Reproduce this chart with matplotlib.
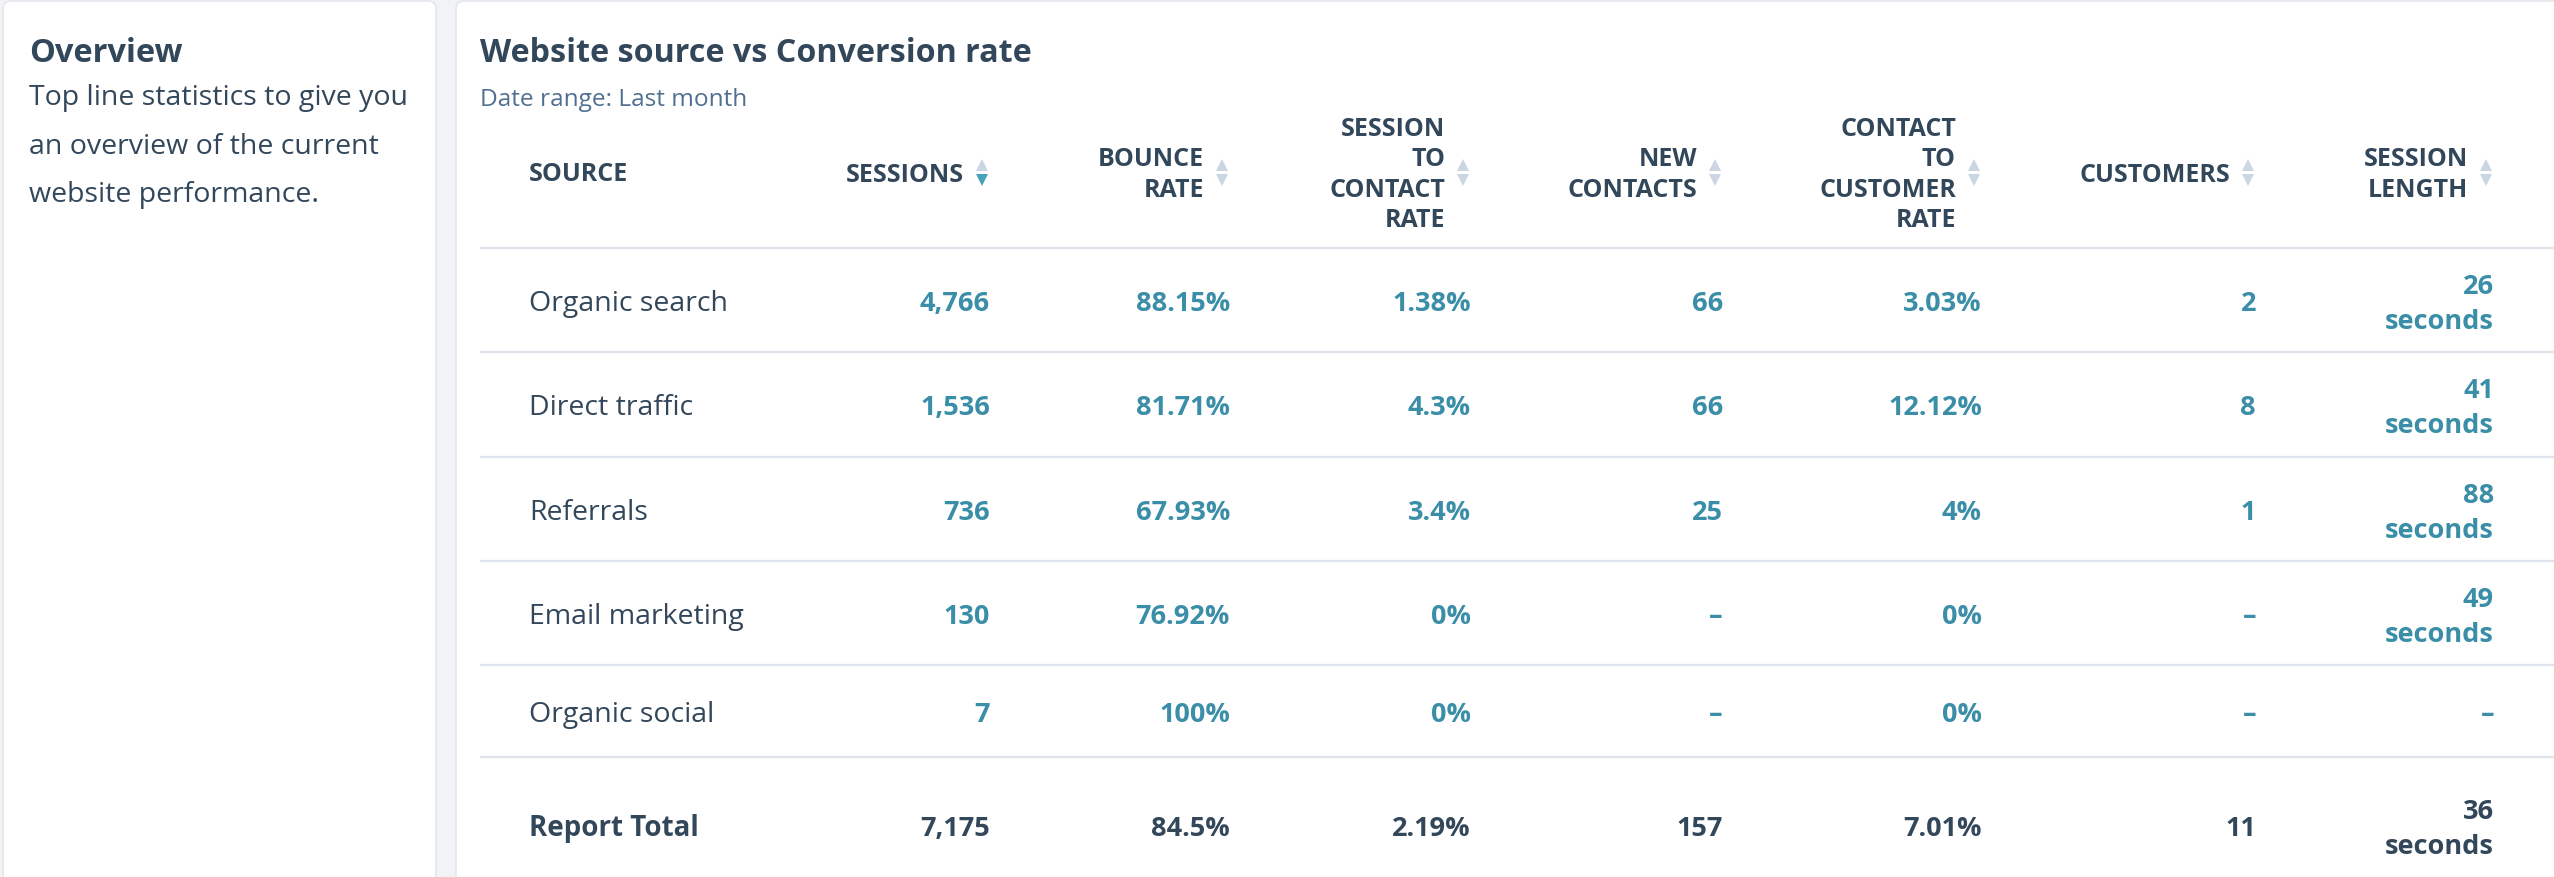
import matplotlib
matplotlib.use("Agg")
import matplotlib.pyplot as plt
from matplotlib.patches import FancyBboxPatch

plt.rcParams['font.family'] = ['Open Sans', 'DejaVu Sans']

# table data
sources = ['Organic search', 'Direct traffic', 'Referrals', 'Email marketing', 'Organic social']
sessions = ['4,766', '1,536', '736', '130', '7']
bounce_rate = ['88.15%', '81.71%', '67.93%', '76.92%', '100%']
session_to_contact = ['1.38%', '4.3%', '3.4%', '0%', '0%']
new_contacts = ['66', '66', '25', '–', '–']
contact_to_customer = ['3.03%', '12.12%', '4%', '0%', '0%']
customers = ['2', '8', '1', '–', '–']
session_length = ['26 seconds', '41 seconds', '88 seconds', '49 seconds', '–']
totals = ['7,175', '84.5%', '2.19%', '157', '7.01%', '11', '36 seconds']

headers = [['SESSIONS'], ['BOUNCE', 'RATE'], ['SESSION', 'TO', 'CONTACT', 'RATE'],
           ['NEW', 'CONTACTS'], ['CONTACT', 'TO', 'CUSTOMER', 'RATE'],
           ['CUSTOMERS'], ['SESSION', 'LENGTH']]
columns = [sessions, bounce_rate, session_to_contact, new_contacts,
           contact_to_customer, customers, session_length]

title = 'Website source vs Conversion rate'
subtitle = 'Date range: Last month'
side_title = 'Overview'
side_text = ['Top line statistics to give you', 'an overview of the current', 'website performance.']

# layout (pixels)
W, H = 2554, 878
col_right = [990, 1230, 1471, 1723, 1982, 2256, 2494]
src_x = 529
row_lines = [249, 353, 458, 562, 666, 758]
total_center = 826
header_center = 173

DARK = '#33475b'
TEAL = '#3b8ea8'
LINE = '#dfe3eb'
ARROW = '#cbd6e2'
ARROW_ON = '#4aa3bd'

fig = plt.figure(figsize=(W / 100, H / 100), dpi=100, facecolor='#f2f3f7')
ax = fig.add_axes([0, 0, 1, 1])
ax.set_xlim(0, W)
ax.set_ylim(H, 0)
ax.axis('off')

# cards
for x0, x1 in [(3, 436), (456, 2620)]:
    ax.add_patch(FancyBboxPatch((x0, 2), x1 - x0, 960, boxstyle='round,pad=0,rounding_size=8',
                                facecolor='white', edgecolor='#e3e6ec', linewidth=1.2))

# side panel
ax.text(29, 62, side_title, fontsize=23.5, fontweight='bold', color=DARK, va='baseline')
for i, line in enumerate(side_text):
    ax.text(29, 105 + i * 48.5, line, fontsize=20.5, color=DARK, va='baseline')

# title
ax.text(480, 62, title, fontsize=23.2, fontweight='bold', color=DARK, va='baseline')
ax.text(480, 106, subtitle, fontsize=17.6, color='#516f90', va='baseline')

# header
HDR_FS = 18
ax.text(src_x, header_center + 8, 'SOURCE', fontsize=HDR_FS, fontweight='bold', color=DARK, va='baseline')
for j, hdr in enumerate(headers):
    n = len(hdr)
    for k, word in enumerate(hdr):
        yc = header_center + (k - (n - 1) / 2) * 30.5
        ax.text(col_right[j] - 26, yc + 8.5, word, fontsize=HDR_FS, fontweight='bold',
                color=DARK, ha='right', va='baseline')
    ax.plot(col_right[j] - 8, header_center - 7.5, marker='^', ms=8.5, color=ARROW, mew=0)
    ax.plot(col_right[j] - 8, header_center + 7.5, marker='v', ms=8.5,
            color=ARROW_ON if j == 0 else ARROW, mew=0)

# separators
for y in row_lines:
    ax.plot([480, W], [y, y], color=LINE, lw=1.6, solid_capstyle='butt')


def draw_value(x, yc, val, color, bold=True):
    weight = 'bold' if bold else 'normal'
    parts = val.split(' ')
    if len(parts) == 2:
        ax.text(x, yc - 7, parts[0], fontsize=19.5, fontweight=weight, color=color, ha='right', va='baseline')
        ax.text(x, yc + 28, parts[1], fontsize=19.5, fontweight=weight, color=color, ha='right', va='baseline')
    else:
        ax.text(x, yc + 10, val, fontsize=19.5, fontweight=weight, color=color, ha='right', va='baseline')


# body rows
for i, src in enumerate(sources):
    yc = (row_lines[i] + row_lines[i + 1]) / 2
    ax.text(src_x, yc + 10, src, fontsize=20.5, color=DARK, va='baseline')
    for j, col in enumerate(columns):
        draw_value(col_right[j], yc, col[i], TEAL)

# totals
ax.text(src_x, total_center + 10, 'Report Total', fontsize=20, fontweight='bold', color=DARK, va='baseline')
for j, val in enumerate(totals):
    draw_value(col_right[j], total_center, val, DARK)

fig.savefig('out.png', dpi=100, facecolor=fig.get_facecolor())
